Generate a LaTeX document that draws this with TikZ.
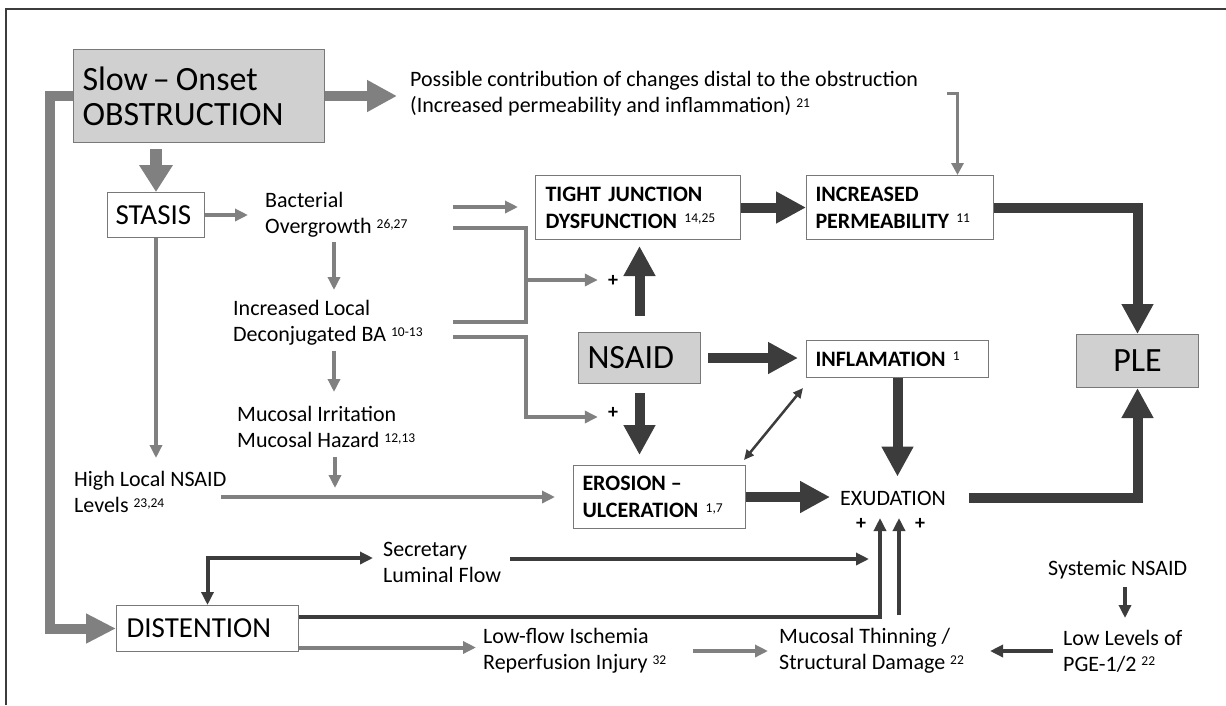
\documentclass[tikz,border=0pt]{standalone}
\usepackage{fontspec}
\setmainfont{Carlito}
\usetikzlibrary{arrows.meta}
\definecolor{dk}{RGB}{60,60,60}
\definecolor{gr}{RGB}{128,128,128}
\definecolor{bx}{RGB}{208,208,208}
\definecolor{bd}{RGB}{120,120,120}
\newcommand\rf[1]{\raisebox{0.5ex}{\mdseries\fontsize{13.5}{13.5}\selectfont #1}}
\begin{document}
\begin{tikzpicture}[x=1pt,y=-1pt,
  box/.style={draw=bd, line width=1pt, anchor=north west, inner ysep=0pt, align=left},
  bigf/.style={font=\fontsize{34}{35}\selectfont},
  midf/.style={font=\fontsize{29}{30}\selectfont},
  boldf/.style={font=\bfseries\fontsize{22}{27}\selectfont},
  txt/.style={anchor=west, inner sep=0pt, align=left, font=\fontsize{22}{26}\selectfont},
  plus/.style={inner sep=0pt, font=\bfseries\fontsize{20}{20}\selectfont},
  thickg/.style={draw=gr, line width=10pt, -{Triangle[length=30pt,width=30pt]}},
  thickd/.style={draw=dk, line width=10pt, -{Triangle[length=30pt,width=30pt]}},
  thing/.style={draw=gr, line width=4pt, -{Triangle[length=13pt,width=12pt]}},
  thind/.style={draw=dk, line width=4pt, -{Triangle[length=13pt,width=12pt]}}]
\useasboundingbox (0,0) rectangle (1226,705);
\draw[draw=dk, line width=1.5pt] (6,705) -- (6,9) -- (1226,9);

% boxes
\node[box, fill=bx, bigf, minimum width=251pt, minimum height=93pt, text width=233pt, inner xsep=9pt] (obs) at (73,49) {Slow\hspace{5pt}–\hspace{6pt}Onset\\OBSTRUCTION};
\node[box, midf, minimum width=97pt, minimum height=45pt, text width=81pt, inner xsep=8pt] (stasis) at (107,192) {STASIS};
\node[box, boldf, minimum width=205pt, minimum height=64pt, text width=185pt, inner xsep=10pt] (tj) at (535,175) {TIGHT JUNCTION\\DYSFUNCTION \rf{14,25}};
\node[box, boldf, minimum width=187pt, minimum height=64pt, text width=169pt, inner xsep=9pt] (ip) at (806,175) {INCREASED\\PERMEABILITY \rf{11}};
\node[box, boldf, minimum width=182pt, minimum height=37pt, text width=164pt, inner xsep=9pt] (infl) at (806,340) {INFLAMATION \rf{1}};
\node[box, fill=bx, bigf, minimum width=122pt, minimum height=51pt, text width=104pt, inner xsep=9pt] (nsaid) at (578,332) {NSAID};
\node[box, fill=bx, bigf, minimum width=122pt, minimum height=53pt, text width=104pt, inner xsep=9pt, align=center] (ple) at (1076,334) {PLE};
\node[box, boldf, minimum width=172pt, minimum height=63pt, text width=154pt, inner xsep=9pt] (eros) at (573,465) {EROSION\hspace{5pt}–\\ULCERATION \rf{1,7}};
\node[box, midf, minimum width=182pt, minimum height=46pt, text width=162pt, inner xsep=10pt] (dist) at (116,605) {DISTENTION};

% texts
\node[txt] (poss) at (410,93.5) {Possible contribution of changes distal to the obstruction\\(Increased permeability and inflammation) \rf{21}};
\node[txt] (bact) at (265,215) {Bacterial\\Overgrowth \rf{26,27}};
\node[txt] (incr) at (233,323) {Increased Local\\Deconjugated BA \rf{10-13}};
\node[txt] (muc) at (237,427) {Mucosal Irritation\\Mucosal Hazard \rf{12,13}};
\node[txt] (high) at (74,492) {High Local NSAID\\Levels \rf{23,24}};
\node[txt] (secr) at (383,562) {Secretary\\Luminal Flow};
\node[txt] (lowflow) at (483,651) {Low-flow Ischemia\\Reperfusion Injury \rf{32}};
\node[txt] (mthin) at (779,651) {Mucosal Thinning /\\Structural Damage \rf{22}};
\node[txt] (lowlev) at (1063,651) {Low Levels of\\PGE-1/2 \rf{22}};
\node[txt] (syst) at (1048,570) {Systemic NSAID};
\node[inner sep=0pt, font=\fontsize{22}{26}\selectfont] (exud) at (893,498) {EXUDATION};
\node[plus] (p1) at (613,281) {+};
\node[plus] (p2) at (613,413) {+};
\node[plus] (p3) at (861,524) {+};
\node[plus] (p4) at (920,524) {+};

% coordinates for free ends
\coordinate (pe) at (947,93);
\coordinate (bactS) at (334,242);
\coordinate (incrN) at (334,290);
\coordinate (incrS) at (334,351);
\coordinate (mucN) at (334,392);
\coordinate (mucS) at (335,457);
\coordinate (mucT) at (335,488);
\coordinate (hiTop) at (156,458);
\coordinate (hiE) at (221,497);
\coordinate (bactE1) at (453,207);
\coordinate (bactE2) at (453,228);
\coordinate (incrE1) at (453,322);
\coordinate (incrE2) at (453,337);
\coordinate (j1) at (526,280);
\coordinate (j2) at (526,417);
\coordinate (up1) at (880,518);
\coordinate (up2) at (899,518);
\coordinate (mtT) at (899,615);
\coordinate (secL) at (373,558);
\coordinate (secE) at (510,559);
\coordinate (secT) at (869,559);
\coordinate (lfE) at (693,651);
\coordinate (mtE) at (990,651);
\coordinate (syS) at (1125,587);
\coordinate (llN) at (1125,618);

% obstruction arrows
\draw[thickg, shorten >=13pt] (obs.east) -- (obs.east -| poss.west);
\draw[thickg, -{Triangle[length=30pt,width=28pt]}] (obs.west) -- ++(-23,0) |- (dist.west);
\draw[draw=gr, line width=12pt, -{Triangle[length=27pt,width=32pt]}, shorten <=6pt] (stasis.north |- obs.south) -- (stasis.north);

% stasis
\draw[thing, shorten >=17pt] (stasis.east) -- (stasis.east -| bact.west);
\draw[thing] (stasis.south) -- (hiTop);
\draw[thing] (bactS) -- (incrN);
\draw[thing] (incrS) -- (mucN);
\draw[thing] (mucS) -- (mucT);
\draw[thing, shorten >=18pt] (hiE) -- (hiE -| eros.west);

% brackets
\draw[thing, shorten >=17pt] (bactE1) -- (bactE1 -| tj.west);
\draw[draw=gr, line width=4pt] (bactE2) -| (j1) |- (incrE1);
\draw[thing, shorten >=10pt] (j1) -- (j1 -| p1.west);
\draw[thing, shorten >=10pt] (incrE2) -| (j2) -- (j2 -| p2.west);

% top right
\draw[draw=gr, line width=3pt, -{Triangle[length=12pt,width=12pt]}] (pe) -| ([xshift=57.5pt]ip.north);
\draw[thickd] (tj.east) -- (ip.west);
\draw[thickd] (ip.east) -| (ple.north);
\draw[thickd, shorten <=23pt] (exud.east) -| (ple.south);

% nsaid
\draw[thickd, shorten <=16pt, shorten >=6pt] (nsaid.north) -- (nsaid.north |- tj.south);
\draw[thickd, shorten <=9pt, shorten >=10pt] (nsaid.south) -- (nsaid.south |- eros.north);
\draw[thickd, shorten <=7pt, shorten >=8pt] (nsaid.east) -- (nsaid.east -| infl.west);
\draw[thickd, shorten >=14pt] (infl.south) -- (infl.south |- exud.north);
\draw[draw=dk, line width=2.5pt, {Triangle[length=10pt,width=9pt]}-{Triangle[length=10pt,width=9pt]}] ([shift={(-3,10)}]infl.south west) -- ([shift={(-2,-5)}]eros.north east);
\draw[thickd, shorten >=10pt] (eros.east) -- (eros.east -| exud.west);

% bottom
\draw[thind] ([yshift=12pt]dist.east) -| (up1);
\draw[thind] (mtT) -- (up2);
\draw[draw=dk, line width=4pt, {Triangle[length=13pt,width=12pt]}-{Triangle[length=13pt,width=12pt]}] (secL) -| (dist.north);
\draw[thind] (secE) -- (secT);
\draw[thing, shorten >=7pt] ([yshift=-19pt]dist.east) -- ([yshift=-19pt]dist.east -| lowflow.west);
\draw[thing, shorten >=11pt] (lfE) -- (lfE -| mthin.west);
\draw[thind, shorten <=10pt] (lowlev.west) -- (mtE);
\draw[thind] (syS) -- (llN);
\end{tikzpicture}
\end{document}
